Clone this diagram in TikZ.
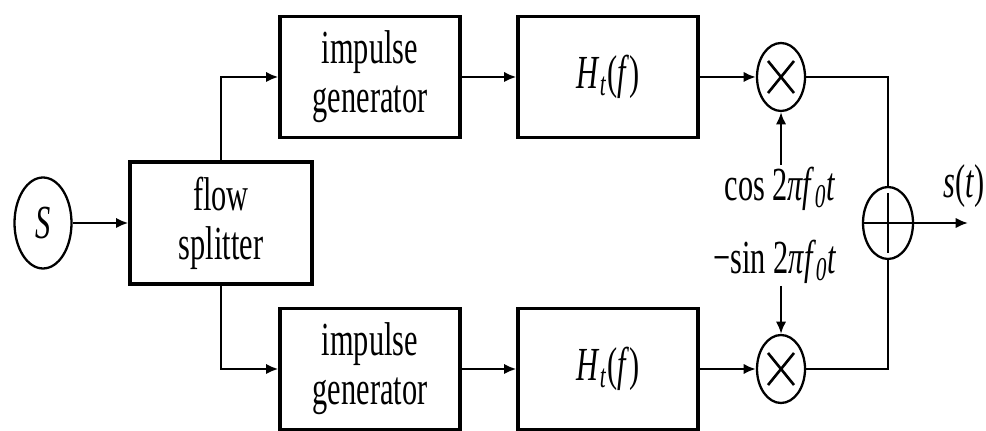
\documentclass[tikz,border=0pt]{standalone}
\usepackage{fontspec}
\setmainfont{Liberation Serif}[FakeStretch=0.64]
\usetikzlibrary{shapes.geometric,arrows.meta}
\tikzset{
  >={Latex[length=7pt,width=6pt]},
}
\tikzstyle{block}=[draw,line width=1.9pt,minimum width=3.6cm,minimum height=2.42cm,align=center]
\tikzstyle{mixer}=[draw,ellipse,line width=1.3pt,minimum width=0.96cm,minimum height=1.36cm,inner sep=0pt]
\tikzstyle{wire}=[line width=1.5pt]
\tikzstyle{every node}=[font=\fontsize{27}{28}\selectfont]

\begin{document}
\begin{tikzpicture}[x=0.02cm,y=-0.02cm]
    \useasboundingbox (0,0) rectangle (986,431);
    % source and splitter
    \node[draw,ellipse,line width=1.3pt,minimum width=1.14cm,minimum height=1.82cm,inner sep=0pt] (src) at (43,223) {\textit{S}};
    \node[block,minimum width=3.64cm,minimum height=2.44cm] (split) at (221,223) {flow\\splitter};
    % upper branch
    \node[block] (gen1) at (370,77) {impulse\\generator};
    \node[block] (filt1) at (608,77) {\textit{H}\textsubscript{\textit{t}}(\textit{f})};
    \node[mixer] (mul1) at (781,77) {};
    \draw[wire] (mul1.center) ++(-13,-16) -- ++(26,32);
    \draw[wire] (mul1.center) ++(13,-16) -- ++(-26,32);
    % lower branch
    \node[block] (gen2) at (370,369) {impulse\\generator};
    \node[block] (filt2) at (608,369) {\textit{H}\textsubscript{\textit{t}}(\textit{f})};
    \node[mixer] (mul2) at (781,369) {};
    \draw[wire] (mul2.center) ++(-13,-16) -- ++(26,32);
    \draw[wire] (mul2.center) ++(13,-16) -- ++(-26,32);
    % carriers
    \node[inner sep=1pt] (cosl) at (780,189) {cos 2\textit{πf}\textsubscript{\textit{0}}\textit{t}};
    \node[inner sep=1pt] (sinl) at (775,262) {−sin 2\textit{πf}\textsubscript{\textit{0}}\textit{t}};
    % adder and output
    \node[mixer,minimum width=1.0cm,minimum height=1.44cm] (add) at (888,223) {};
    \draw[wire] (add.west) -- (add.east);
    \draw[wire] (add.center) ++(0,-30) -- ++(0,60);
    \coordinate (out) at (968,223);
    \node (outl) at (964,186) {\textit{s}(\textit{t})};

    \draw[wire,->] (src) -- (split);
    \draw[wire,->] (split.north) |- (gen1.west);
    \draw[wire,->] (split.south) |- (gen2.west);
    \draw[wire,->] (gen1) -- (filt1);
    \draw[wire,->] (gen2) -- (filt2);
    \draw[wire,->] (filt1) -- (mul1);
    \draw[wire,->] (filt2) -- (mul2);
    \draw[wire,->] (mul1.south |- cosl.north) -- (mul1.south);
    \draw[wire,->] (mul2.north |- sinl.south) -- (mul2.north);
    \draw[wire] (mul1.east) -| (add.north);
    \draw[wire] (mul2.east) -| (add.south);
    \draw[wire,->] (add) -- (out);
  \end{tikzpicture}
\end{document}
